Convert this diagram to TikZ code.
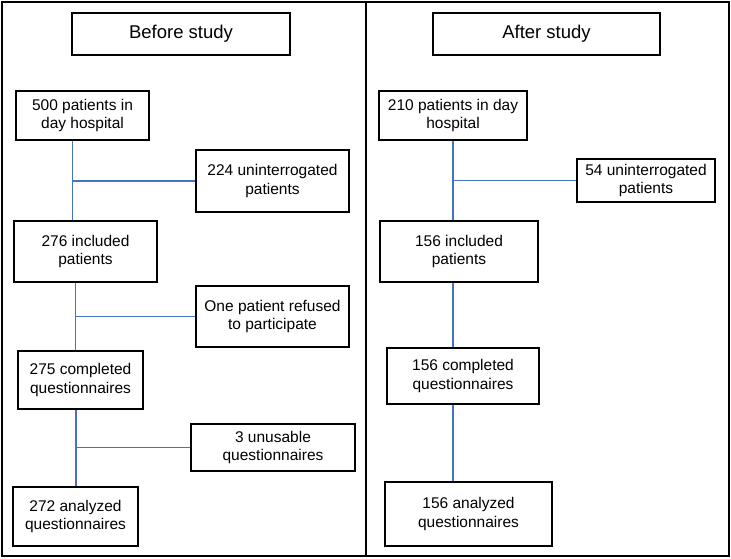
\documentclass[tikz,border=0pt]{standalone}
\usepackage{fontspec}
\setmainfont{Liberation Sans}
\definecolor{linkblue}{RGB}{68,114,196}
\begin{document}
\begin{tikzpicture}[x=1pt,y=-1pt,
  box/.style={draw=black,line width=1.4pt,fill=white,align=center,inner sep=0pt,font=\fontsize{15.5}{18.6}\selectfont},
  titlebox/.style={draw=black,line width=1.4pt,align=center,inner sep=0pt,font=\fontsize{18.5}{22}\selectfont},
  frame/.style={draw=black,line width=2pt},
  link/.style={draw=linkblue,line width=1.3pt}]
\useasboundingbox (0,0) rectangle (731,559);
\draw[frame] (2,2) rectangle (366,556);
\draw[frame] (366,2) rectangle (729,556);
% titles
\node[titlebox,minimum width=218pt,minimum height=42pt] (tb) at (181,34) {Before study};
\node[titlebox,minimum width=227pt,minimum height=42pt] (ta) at (546.5,34) {After study};
% left column
\node[box,minimum width=133pt,minimum height=49pt] (l1) at (82.5,115.5) {500 patients in\\day hospital};
\node[box,minimum width=153pt,minimum height=62pt] (l1x) at (272.5,181) {224 uninterrogated\\patients};
\node[box,minimum width=143pt,minimum height=61pt] (l2) at (85.5,251.5) {276 included\\patients};
\node[box,minimum width=153pt,minimum height=61pt] (l2x) at (272.5,316.5) {One patient refused\\to participate};
\node[box,minimum width=125pt,minimum height=58pt] (l3) at (80.5,380) {275 completed\\questionnaires};
\node[box,minimum width=164pt,minimum height=47pt] (l3x) at (273,447.5) {3 unusable\\questionnaires};
\node[box,minimum width=125pt,minimum height=59pt] (l4) at (75.5,516.5) {272 analyzed\\questionnaires};
% right column
\node[box,minimum width=148pt,minimum height=49pt] (r1) at (453,115.5) {210 patients in day\\hospital};
\node[box,minimum width=138pt,minimum height=43pt] (r1x) at (646,180.5) {54 uninterrogated\\patients};
\node[box,minimum width=158pt,minimum height=61pt] (r2) at (459,251.5) {156 included\\patients};
\node[box,minimum width=152pt,minimum height=56pt] (r3) at (463,376) {156 completed\\questionnaires};
\node[box,minimum width=167pt,minimum height=64pt] (r4) at (468.5,514) {156 analyzed\\questionnaires};
% line positions
\coordinate (xa) at (72.3,0);
\coordinate (xb) at (75.3,0);
\coordinate (xc) at (76,0);
\coordinate (xr) at (453,0);
% left links
\draw[link] (l1.south -| xa) -- (l2.north -| xa);
\draw[link] (l1x.west -| xa) -- (l1x.west);
\draw[link] (l2.south -| xb) -- (l3.north -| xb);
\draw[link] (l2x.west -| xb) -- (l2x.west);
\draw[link] (l3.south -| xc) -- (l4.north -| xc);
\draw[link] (l3x.west -| xc) -- (l3x.west);
% right links
\draw[link] (r1.south -| xr) -- (r2.north -| xr);
\draw[link] (r1x.west -| xr) -- (r1x.west);
\draw[link] (r2.south -| xr) -- (r3.north -| xr);
\draw[link] (r3.south -| xr) -- (r4.north -| xr);
\end{tikzpicture}
\end{document}
